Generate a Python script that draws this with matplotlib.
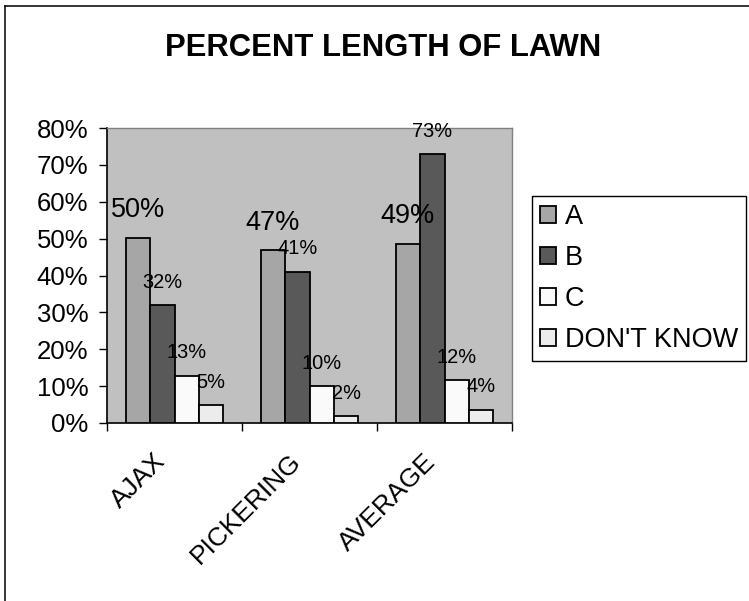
import numpy as np
import matplotlib.pyplot as plt
import matplotlib.transforms as mtransforms
from matplotlib.lines import Line2D

plt.rcParams['font.family'] = ['Liberation Sans', 'DejaVu Sans']

categories = ['AJAX', 'PICKERING', 'AVERAGE']
series = ['A', 'B', 'C', "DON'T KNOW"]
vals_a = [50.1, 46.8, 48.6]
vals_b = [32.0, 41.0, 72.9]
vals_c = [12.8, 9.9, 11.6]
vals_dk = [4.9, 1.9, 3.6]
colors = ['#a6a6a6', '#595959', '#fafafa', '#ececec']
yticks = [0, 10, 20, 30, 40, 50, 60, 70, 80]

fig = plt.figure(figsize=(7.49, 6.01), dpi=100)
ax = fig.add_axes([107/749, 1-423/601, 405/749, 295/601])
ax.set_facecolor('#c0c0c0')

x = np.arange(len(categories))
w = 0.181
allvals = [vals_a, vals_b, vals_c, vals_dk]
for i, v in enumerate(allvals):
    pos = x + (i - 1.5) * w
    ax.bar(pos, v, width=w, color=colors[i], edgecolor='black', linewidth=1.3,
           label=series[i], zorder=3)
    for px, py in zip(pos, v):
        if i == 0:
            ax.annotate('%.0f%%' % py, (px, py), xytext=(0, 20), textcoords='offset points',
                        ha='center', va='center', fontsize=19.5, zorder=4)
        else:
            ax.annotate('%.0f%%' % py, (px, py), xytext=(0, 16.5), textcoords='offset points',
                        ha='center', va='center', fontsize=14.4, zorder=4)

ax.set_xlim(-0.5, 2.5)
ax.set_ylim(0, 80)
ax.set_yticks(yticks)
ax.set_yticklabels(['%d%%' % t for t in yticks], fontsize=18.5)
ax.tick_params(axis='y', direction='out', length=5.5, width=1, pad=8)

# category labels on major ticks, tick marks between groups
ax.set_xticks(x)
ax.set_xticklabels(categories, rotation=45, ha='right', va='top', fontsize=19)
ax.tick_params(axis='x', which='major', length=0, pad=19)
ax.set_xticks([-0.5, 0.5, 1.5, 2.5], minor=True)
ax.tick_params(axis='x', which='minor', direction='out', length=5.5, width=1)
shift = mtransforms.ScaledTranslation(-4/100, 0, fig.dpi_scale_trans)
for lab in ax.get_xticklabels():
    lab.set_transform(lab.get_transform() + shift)

for s in ['left', 'bottom']:
    ax.spines[s].set_color('black')
    ax.spines[s].set_linewidth(1.2)
for s in ['top', 'right']:
    ax.spines[s].set_color('#808080')
    ax.spines[s].set_linewidth(1.0)

fig.text(383/749, 1-56/601, 'PERCENT LENGTH OF LAWN', ha='center', va='baseline',
         fontsize=22.3, fontweight='bold')

leg = fig.legend(loc='upper left', bbox_to_anchor=(532/749, 1-196/601), fontsize=19.5,
                 frameon=True, fancybox=False, edgecolor='black', framealpha=1,
                 handlelength=0.6, handleheight=0.6, handletextpad=0.32,
                 labelspacing=0.55, borderpad=0.3, borderaxespad=0)
leg.get_frame().set_linewidth(1.0)

# chart frame
fig.add_artist(Line2D([5/749, 5/749], [0, 1-6/601], transform=fig.transFigure, color='black', lw=1.1))
fig.add_artist(Line2D([5/749, 1], [1-6/601, 1-6/601], transform=fig.transFigure, color='black', lw=1.1))

plt.savefig('out.png', dpi=100)
plt.close()
